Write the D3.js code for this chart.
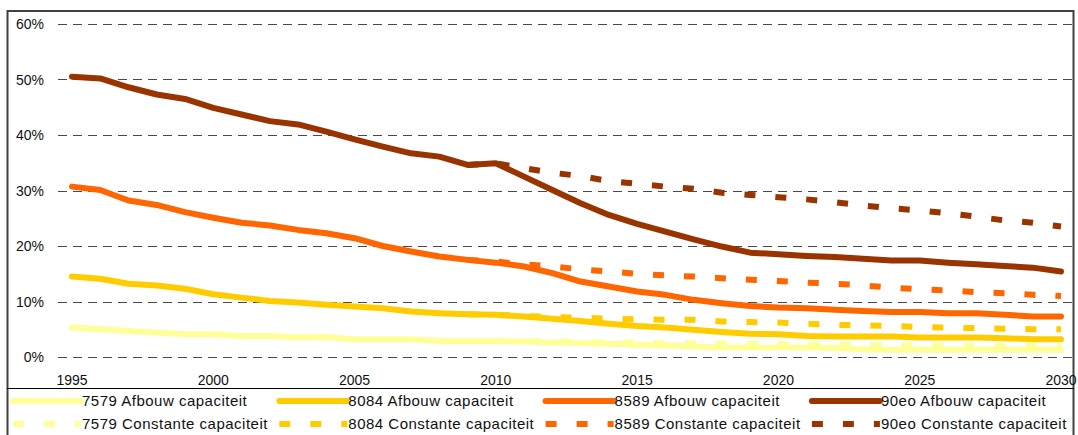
<!DOCTYPE html>
<html>
<head>
<meta charset="utf-8">
<script src="https://cdn.jsdelivr.net/npm/d3@7"></script>
<style>
  body { margin: 0; background: #fff; }
  svg { display: block; font-family: "Liberation Sans", Arial, sans-serif; }
</style>
</head>
<body>
<div id="chart"></div>
<script>
// Years on the x axis
var years = [1995, 1996, 1997, 1998, 1999, 2000, 2001, 2002, 2003, 2004, 2005, 2006,
  2007, 2008, 2009, 2010, 2011, 2012, 2013, 2014, 2015, 2016, 2017, 2018,
  2019, 2020, 2021, 2022, 2023, 2024, 2025, 2026, 2027, 2028, 2029, 2030];
var yearTicks = [1995, 2000, 2005, 2010, 2015, 2020, 2025, 2030];
var percentTicks = [0, 0.1, 0.2, 0.3, 0.4, 0.5, 0.6];

// Afbouw capaciteit (percent), 1995-2030
var afbouw7579 = [5.3, 5.0, 4.7, 4.4, 4.1, 4.1, 3.8, 3.8, 3.5, 3.6, 3.2, 3.2,
  3.2, 2.9, 2.9, 2.9, 2.8, 2.6, 2.5, 2.4, 2.2, 2.1, 1.9, 1.7,
  1.7, 1.7, 1.7, 1.6, 1.4, 1.3, 1.3, 1.3, 1.3, 1.3, 1.3, 1.3];
var afbouw8084 = [14.5, 14.1, 13.2, 12.9, 12.3, 11.3, 10.7, 10.1, 9.8, 9.4, 9.1, 8.8,
  8.2, 7.9, 7.7, 7.6, 7.3, 6.9, 6.5, 6.0, 5.6, 5.3, 4.9, 4.5,
  4.2, 4.1, 3.8, 3.7, 3.7, 3.7, 3.5, 3.5, 3.5, 3.4, 3.2, 3.2];
var afbouw8589 = [30.7, 30.1, 28.2, 27.4, 26.1, 25.1, 24.2, 23.7, 22.9, 22.3, 21.4, 20.0,
  19.0, 18.1, 17.5, 17.0, 16.3, 15.1, 13.6, 12.7, 11.8, 11.2, 10.3, 9.7,
  9.2, 8.9, 8.8, 8.5, 8.3, 8.1, 8.1, 7.9, 7.9, 7.6, 7.3, 7.3];
var afbouw90eo = [50.5, 50.2, 48.6, 47.3, 46.5, 44.9, 43.7, 42.5, 41.9, 40.6, 39.2, 37.9,
  36.7, 36.1, 34.6, 34.9, 32.5, 30.1, 27.7, 25.6, 24.0, 22.6, 21.2, 19.9,
  18.8, 18.5, 18.2, 18.0, 17.7, 17.4, 17.4, 17.0, 16.7, 16.4, 16.1, 15.4];

// Constante capaciteit (percent), only from 2009 on
var constante7579 = [null, null, null, null, null, null, null, null, null, null, null, null,
  null, null, 2.9, 2.9, 2.9, 2.8, 2.7, 2.6, 2.6, 2.5, 2.5, 2.4,
  2.4, 2.3, 2.3, 2.2, 2.2, 2.1, 2.1, 2.1, 2.0, 2.0, 2.0, 1.9];
var constante8084 = [null, null, null, null, null, null, null, null, null, null, null, null,
  null, null, 7.7, 7.6, 7.4, 7.2, 7.1, 6.9, 6.8, 6.7, 6.7, 6.4,
  6.3, 6.2, 6.0, 5.8, 5.7, 5.6, 5.4, 5.3, 5.2, 5.1, 5.0, 5.0];
var constante8589 = [null, null, null, null, null, null, null, null, null, null, null, null,
  null, null, 17.5, 17.2, 16.7, 16.3, 15.8, 15.4, 15.0, 14.7, 14.5, 14.2,
  13.9, 13.7, 13.4, 13.2, 12.9, 12.5, 12.2, 12.0, 11.7, 11.5, 11.2, 11.0];
var constante90eo = [null, null, null, null, null, null, null, null, null, null, null, null,
  null, null, 34.6, 34.9, 34.0, 33.2, 32.6, 31.7, 31.2, 30.7, 30.3, 29.6,
  29.2, 28.8, 28.4, 27.9, 27.3, 26.8, 26.4, 25.9, 25.3, 24.6, 24.2, 23.5];

var seriesColors = ["#FFFF99", "#FFCC00", "#FF6600", "#993300"];

// Series in drawing order: afbouw first, constante on top
var series = [
  { label: "7579 Afbouw capaciteit", values: afbouw7579, color: seriesColors[0], dashed: false },
  { label: "8084 Afbouw capaciteit", values: afbouw8084, color: seriesColors[1], dashed: false },
  { label: "8589 Afbouw capaciteit", values: afbouw8589, color: seriesColors[2], dashed: false },
  { label: "90eo Afbouw capaciteit", values: afbouw90eo, color: seriesColors[3], dashed: false },
  { label: "7579 Constante capaciteit", values: constante7579, color: seriesColors[0], dashed: true },
  { label: "8084 Constante capaciteit", values: constante8084, color: seriesColors[1], dashed: true },
  { label: "8589 Constante capaciteit", values: constante8589, color: seriesColors[2], dashed: true },
  { label: "90eo Constante capaciteit", values: constante90eo, color: seriesColors[3], dashed: true },
];

var width = 1078;
var height = 435;

var svg = d3
  .select("#chart")
  .append("svg")
  .attr("width", width)
  .attr("height", height);

// Scales
var x = d3.scaleLinear().domain([1995, 2030]).range([72, 1061]);
var y = d3.scaleLinear().domain([0, 0.6]).range([357, 24]);

// Outer frame
svg
  .append("rect")
  .attr("x", 7.5)
  .attr("y", 11)
  .attr("width", 1066)
  .attr("height", 440)
  .attr("fill", "none")
  .attr("stroke", "#404040")
  .attr("stroke-width", 2);

// Horizontal dashed gridlines
svg
  .selectAll("grid")
  .data(percentTicks)
  .enter()
  .append("line")
  .attr("x1", 58)
  .attr("x2", 1072)
  .attr("y1", function (d) {
    return Math.round(y(d)) + 0.5;
  })
  .attr("y2", function (d) {
    return Math.round(y(d)) + 0.5;
  })
  .attr("stroke", "#4a4a4a")
  .attr("stroke-width", 1.2)
  .attr("stroke-dasharray", "9,6");

// Y axis labels
svg
  .selectAll("ylabels")
  .data(percentTicks)
  .enter()
  .append("text")
  .attr("x", 44)
  .attr("y", function (d) {
    return y(d) + 5;
  })
  .attr("text-anchor", "end")
  .style("font-size", "14px")
  .style("fill", "#111")
  .text(d3.format(".0%"));

// X axis labels
svg
  .selectAll("xlabels")
  .data(yearTicks)
  .enter()
  .append("text")
  .attr("x", function (d) {
    return x(d);
  })
  .attr("y", 385)
  .attr("text-anchor", "middle")
  .style("font-size", "14px")
  .style("fill", "#111")
  .text(function (d) {
    return d;
  });

// Line generator, skipping missing years
var line = d3
  .line()
  .defined(function (d) {
    return d.v !== null;
  })
  .x(function (d) {
    return x(d.year);
  })
  .y(function (d) {
    return y(d.v / 100);
  });

svg
  .selectAll("series")
  .data(series)
  .enter()
  .append("path")
  .attr("d", function (s) {
    return line(
      years.map(function (yr, i) {
        return { year: yr, v: s.values[i] };
      })
    );
  })
  .attr("fill", "none")
  .attr("stroke", function (s) {
    return s.color;
  })
  .attr("stroke-width", 6)
  .attr("stroke-linejoin", "round")
  .attr("stroke-linecap", function (s) {
    return s.dashed ? "butt" : "round";
  })
  .attr("stroke-dasharray", function (s) {
    return s.dashed ? "11,20" : null;
  });

// Legend box separator
svg
  .append("line")
  .attr("x1", 7)
  .attr("x2", 1074)
  .attr("y1", 388.5)
  .attr("y2", 388.5)
  .attr("stroke", "#000")
  .attr("stroke-width", 1.2);

// Legend: 4 columns, afbouw on row 1, constante on row 2
var legend = svg
  .selectAll("legend")
  .data(series)
  .enter()
  .append("g")
  .attr("transform", function (d, i) {
    var col = i % 4;
    var row = Math.floor(i / 4);
    return "translate(" + (13 + col * 266.3) + "," + (401 + row * 23) + ")";
  });

legend
  .append("line")
  .attr("x1", 0)
  .attr("x2", 68)
  .attr("y1", 0)
  .attr("y2", 0)
  .attr("stroke", function (d) {
    return d.color;
  })
  .attr("stroke-width", 6)
  .attr("stroke-linecap", function (d) {
    return d.dashed ? "butt" : "round";
  })
  .attr("stroke-dasharray", function (d) {
    return d.dashed ? "11,20" : null;
  });

legend
  .append("text")
  .attr("x", 69)
  .attr("y", 5)
  .style("font-size", "15px")
  .style("letter-spacing", "0.5px")
  .style("fill", "#111")
  .text(function (d) {
    return d.label;
  });
</script>
</body>
</html>
